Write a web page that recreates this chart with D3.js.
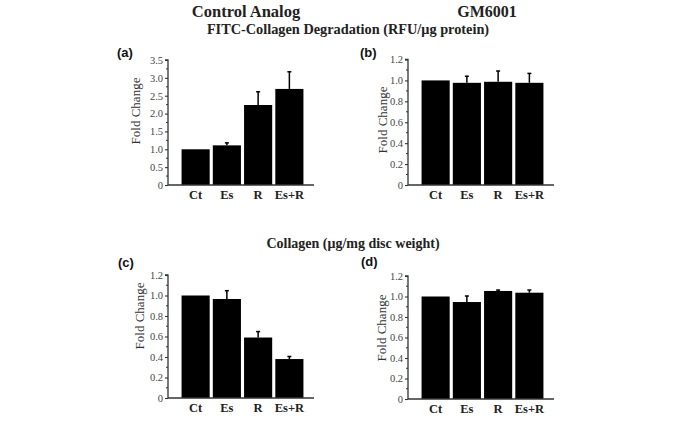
<!DOCTYPE html>
<html><head><meta charset="utf-8">
<script src="https://cdn.jsdelivr.net/npm/d3@7"></script>
<style>body{margin:0;background:#fff}svg{display:block}</style>
</head><body>
<svg id="c" width="685" height="425"></svg>
<script>
const categories = ["Ct", "Es", "R", "Es+R"];
const fitcControl = [1.0, 1.11, 2.24, 2.69];
const fitcControlErr = [0, 0.07, 0.37, 0.48];
const fitcGM = [1.0, 0.977, 0.987, 0.977];
const fitcGMErr = [0, 0.063, 0.103, 0.09];
const collControl = [1.0, 0.966, 0.59, 0.38];
const collControlErr = [0, 0.081, 0.058, 0.025];
const collGM = [1.0, 0.946, 1.054, 1.037];
const collGMErr = [0, 0.059, 0.009, 0.026];
const ticksA = [0, 0.5, 1.0, 1.5, 2.0, 2.5, 3.0, 3.5];
const ticksB = [0, 0.2, 0.4, 0.6, 0.8, 1.0, 1.2];
const panelLetters = ["(a)", "(b)", "(c)", "(d)"];
const yLabel = "Fold Change";

const svg = d3.select("#c");
const serif = "'Liberation Serif','Times New Roman',serif";
const sans = "'Liberation Sans',Arial,sans-serif";

svg.append("text").attr("x", 246).attr("y", 17).attr("text-anchor", "middle")
  .attr("font-family", serif).attr("font-weight", "bold").attr("font-size", 16.5).attr("fill", "#222").text("Control Analog");
svg.append("text").attr("x", 487).attr("y", 17).attr("text-anchor", "middle")
  .attr("font-family", serif).attr("font-weight", "bold").attr("font-size", 16).attr("fill", "#222").text("GM6001");
svg.append("text").attr("x", 348).attr("y", 34).attr("text-anchor", "middle")
  .attr("font-family", serif).attr("font-weight", "bold").attr("font-size", 14.3).attr("fill", "#222").text("FITC-Collagen Degradation (RFU/μg protein)");
svg.append("text").attr("x", 353).attr("y", 248).attr("text-anchor", "middle")
  .attr("font-family", serif).attr("font-weight", "bold").attr("font-size", 14).attr("fill", "#222").text("Collagen (μg/mg disc weight)");

const panels = [
  {vals: fitcControl, errs: fitcControlErr, ticks: ticksA, max: 3.5, ax: 168, y0: 185, yTop: 60, lx: 137, ly: 111, letter: [117, 57]},
  {vals: fitcGM, errs: fitcGMErr, ticks: ticksB, max: 1.2, ax: 408, y0: 185, yTop: 59.5, lx: 384, ly: 120, letter: [360, 57]},
  {vals: collControl, errs: collControlErr, ticks: ticksB, max: 1.2, ax: 168, y0: 398, yTop: 275, lx: 141, ly: 316, letter: [118, 267]},
  {vals: collGM, errs: collGMErr, ticks: ticksB, max: 1.2, ax: 408, y0: 399, yTop: 276, lx: 383, ly: 328, letter: [361, 266]}
];

panels.forEach((p, i) => {
  const g = svg.append("g");
  const y = d3.scaleLinear().domain([0, p.max]).range([p.y0, p.yTop]);
  const x = d3.scaleBand().domain(categories).range([p.ax + 12, p.ax + 12 + 125]).paddingInner(0.1).paddingOuter(0.05);
  const xEnd = p.ax + 146;

  g.selectAll("rect.bar").data(categories).enter().append("rect")
    .attr("x", d => x(d)).attr("width", x.bandwidth())
    .attr("y", (d, k) => y(p.vals[k])).attr("height", (d, k) => p.y0 - y(p.vals[k]))
    .attr("fill", "#000");
  categories.forEach((c, k) => {
    if (p.errs[k] <= 0) return;
    const cx = x(c) + x.bandwidth() / 2;
    g.append("line").attr("x1", cx).attr("x2", cx).attr("y1", y(p.vals[k])).attr("y2", y(p.vals[k] + p.errs[k]))
      .attr("stroke", "#000").attr("stroke-width", 1.5);
    g.append("line").attr("x1", cx - 2).attr("x2", cx + 2).attr("y1", y(p.vals[k] + p.errs[k])).attr("y2", y(p.vals[k] + p.errs[k]))
      .attr("stroke", "#000").attr("stroke-width", 1.5);
  });

  const yAxis = d3.axisLeft(y).tickValues(p.ticks).tickSize(3).tickPadding(2)
    .tickFormat(v => v === 0 ? "0" : d3.format(".1f")(v));
  const ya = g.append("g").attr("transform", `translate(${p.ax},0)`).call(yAxis);
  ya.select(".domain").attr("stroke", "#333").attr("stroke-width", 1.3).attr("d", `M-3,${y(p.max)}H0V${p.y0}`);
  ya.selectAll(".tick line").attr("stroke", "#333").attr("stroke-width", 1.1);
  ya.selectAll(".tick text").attr("font-family", serif).attr("font-size", 10.5).attr("fill", "#444");
  const step = p.ticks[1] - p.ticks[0];
  const minors = p.ticks.slice(0, -1).map(t => t + step / 2);
  g.selectAll("line.minor").data(minors).enter().append("line")
    .attr("x1", p.ax - 2).attr("x2", p.ax).attr("y1", d => y(d)).attr("y2", d => y(d))
    .attr("stroke", "#333").attr("stroke-width", 1);

  g.append("line").attr("x1", p.ax).attr("x2", xEnd).attr("y1", p.y0).attr("y2", p.y0)
    .attr("stroke", "#333").attr("stroke-width", 1.5);
  g.selectAll("text.cat").data(categories).enter().append("text")
    .attr("x", d => x(d) + x.bandwidth() / 2).attr("y", p.y0 + 14)
    .attr("text-anchor", "middle").attr("font-family", serif).attr("font-weight", "bold")
    .attr("font-size", 12.5).attr("fill", "#222").text(d => d);

  g.append("text").attr("transform", `translate(${p.lx},${p.ly}) rotate(-90)`)
    .attr("text-anchor", "middle").attr("dominant-baseline", "middle")
    .attr("font-family", serif).attr("font-size", 13).attr("fill", "#333").text(yLabel);

  svg.append("text").attr("x", p.letter[0]).attr("y", p.letter[1])
    .attr("font-family", sans).attr("font-weight", "bold").attr("font-size", 13).attr("fill", "#111").text(panelLetters[i]);
});
</script>
</body></html>
